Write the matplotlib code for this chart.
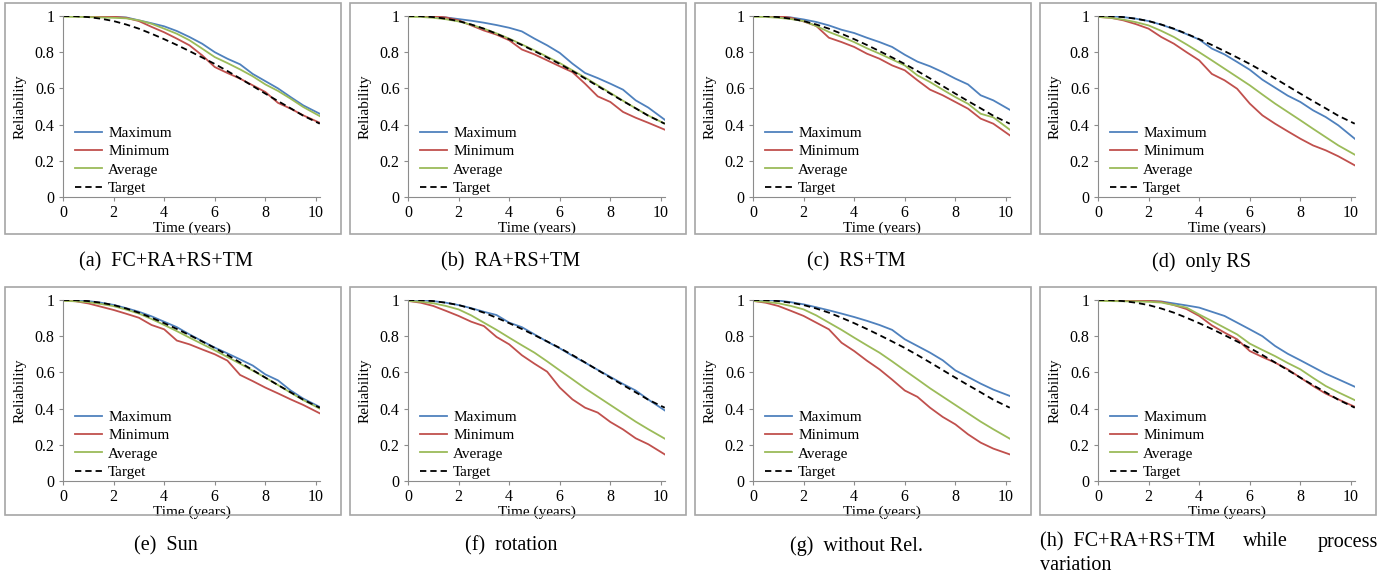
import matplotlib
matplotlib.use("Agg")
import matplotlib.pyplot as plt
from matplotlib.patches import Rectangle

plt.rcParams['font.family'] = ['Liberation Serif', 'DejaVu Serif']

# time grid (years), shared by every curve
t = [0, 0.5, 1, 1.5, 2, 2.5, 3, 3.5, 4, 4.5, 5, 5.5, 6, 6.5, 7, 7.5, 8, 8.5, 9, 9.5, 10.15]

target = [1.0, 0.999, 0.994, 0.985, 0.972, 0.953, 0.93, 0.902, 0.872, 0.84, 0.806,
          0.771, 0.735, 0.696, 0.655, 0.613, 0.571, 0.53, 0.49, 0.449, 0.405]

# (a) FC+RA+RS+TM
a_max = [1.0, 1.0, 1.0, 0.998, 0.995, 0.992, 0.976, 0.96, 0.943, 0.917, 0.884,
         0.847, 0.80, 0.764, 0.733, 0.68, 0.64, 0.60, 0.552, 0.506, 0.46]
a_min = [1.0, 1.0, 1.0, 0.998, 0.996, 0.99, 0.972, 0.94, 0.91, 0.875, 0.838,
         0.783, 0.718, 0.685, 0.654, 0.617, 0.58, 0.52, 0.488, 0.451, 0.41]
a_avg = [0.996, 0.995, 0.994, 0.992, 0.99, 0.987, 0.976, 0.957, 0.93, 0.902, 0.866,
         0.82, 0.773, 0.74, 0.705, 0.667, 0.622, 0.586, 0.543, 0.497, 0.447]

# (b) RA+RS+TM
b_max = [1.0, 1.0, 0.998, 0.992, 0.983, 0.974, 0.963, 0.95, 0.935, 0.915, 0.875,
         0.838, 0.796, 0.737, 0.685, 0.657, 0.626, 0.593, 0.534, 0.494, 0.427]
b_min = [1.0, 1.0, 1.0, 0.992, 0.976, 0.948, 0.92, 0.897, 0.866, 0.815, 0.788,
         0.755, 0.722, 0.69, 0.626, 0.556, 0.525, 0.47, 0.438, 0.41, 0.372]
b_avg = [0.995, 0.995, 0.99, 0.982, 0.97, 0.952, 0.93, 0.904, 0.875, 0.843, 0.81,
         0.775, 0.74, 0.70, 0.66, 0.617, 0.575, 0.532, 0.49, 0.45, 0.405]

# (c) RS+TM
c_max = [1.0, 1.0, 0.998, 0.992, 0.981, 0.967, 0.948, 0.924, 0.906, 0.88, 0.856,
         0.829, 0.786, 0.748, 0.722, 0.69, 0.654, 0.622, 0.562, 0.534, 0.482]
c_min = [1.0, 1.0, 1.0, 0.99, 0.97, 0.945, 0.88, 0.856, 0.829, 0.792, 0.764,
         0.727, 0.70, 0.645, 0.593, 0.562, 0.525, 0.488, 0.433, 0.405, 0.341]
c_avg = [0.995, 0.995, 0.99, 0.983, 0.972, 0.945, 0.912, 0.885, 0.856, 0.822, 0.792,
         0.76, 0.727, 0.672, 0.635, 0.593, 0.552, 0.515, 0.46, 0.44, 0.372]

# (d) only RS
d_max = [1.0, 0.999, 0.994, 0.985, 0.972, 0.952, 0.928, 0.9, 0.87, 0.82, 0.788,
         0.746, 0.703, 0.648, 0.604, 0.56, 0.525, 0.479, 0.442, 0.396, 0.322]
d_min = [0.995, 0.99, 0.976, 0.955, 0.93, 0.884, 0.847, 0.80, 0.755, 0.68, 0.645,
         0.598, 0.516, 0.451, 0.405, 0.363, 0.322, 0.285, 0.258, 0.225, 0.175]
d_avg = [0.995, 0.99, 0.98, 0.966, 0.948, 0.918, 0.884, 0.843, 0.80, 0.755, 0.709,
         0.663, 0.617, 0.566, 0.516, 0.47, 0.424, 0.377, 0.331, 0.285, 0.234]

# (e) Sun
e_max = [1.0, 0.999, 0.994, 0.985, 0.973, 0.955, 0.935, 0.91, 0.88, 0.85, 0.81,
         0.773, 0.737, 0.705, 0.672, 0.638, 0.589, 0.556, 0.50, 0.455, 0.409]
e_min = [0.998, 0.993, 0.981, 0.963, 0.945, 0.924, 0.902, 0.862, 0.838, 0.776, 0.755,
         0.727, 0.70, 0.665, 0.586, 0.552, 0.516, 0.484, 0.451, 0.42, 0.374]
e_avg = [0.995, 0.993, 0.988, 0.978, 0.966, 0.947, 0.925, 0.895, 0.862, 0.828, 0.792,
         0.757, 0.722, 0.685, 0.648, 0.61, 0.571, 0.53, 0.488, 0.447, 0.40]

# (f) rotation
f_max = [1.0, 0.999, 0.994, 0.985, 0.972, 0.955, 0.935, 0.917, 0.875, 0.85, 0.81,
         0.77, 0.733, 0.692, 0.654, 0.614, 0.575, 0.536, 0.50, 0.45, 0.39]
f_min = [0.995, 0.985, 0.967, 0.94, 0.912, 0.88, 0.856, 0.796, 0.755, 0.695, 0.648,
         0.604, 0.516, 0.451, 0.405, 0.378, 0.326, 0.285, 0.236, 0.203, 0.147]
f_avg = [0.995, 0.99, 0.982, 0.967, 0.948, 0.915, 0.875, 0.835, 0.792, 0.75, 0.709,
         0.661, 0.611, 0.562, 0.512, 0.466, 0.42, 0.374, 0.328, 0.286, 0.234]

# (g) without Rel.
g_max = [1.0, 1.0, 0.997, 0.988, 0.976, 0.96, 0.943, 0.925, 0.906, 0.885, 0.862,
         0.835, 0.783, 0.746, 0.709, 0.667, 0.611, 0.575, 0.538, 0.505, 0.47]
g_min = [0.995, 0.985, 0.967, 0.94, 0.912, 0.875, 0.838, 0.764, 0.718, 0.665, 0.617,
         0.56, 0.50, 0.465, 0.405, 0.354, 0.313, 0.258, 0.212, 0.179, 0.147]
g_avg = [0.995, 0.99, 0.982, 0.967, 0.948, 0.915, 0.875, 0.835, 0.792, 0.75, 0.709,
         0.661, 0.611, 0.562, 0.512, 0.466, 0.42, 0.374, 0.328, 0.286, 0.234]

# (h) FC+RA+RS+TM while process variation
h_max = [1.0, 1.0, 1.0, 0.998, 0.995, 0.992, 0.981, 0.97, 0.958, 0.935, 0.912,
         0.875, 0.838, 0.80, 0.746, 0.703, 0.667, 0.63, 0.593, 0.562, 0.521]
h_min = [1.0, 1.0, 1.0, 0.998, 0.995, 0.99, 0.972, 0.95, 0.912, 0.86, 0.82,
         0.783, 0.718, 0.685, 0.654, 0.617, 0.571, 0.525, 0.483, 0.451, 0.41]
h_avg = [0.995, 0.994, 0.993, 0.992, 0.99, 0.986, 0.972, 0.958, 0.92, 0.884, 0.847,
         0.81, 0.759, 0.724, 0.69, 0.652, 0.617, 0.57, 0.525, 0.49, 0.447]

captions = ["(a)  FC+RA+RS+TM", "(b)  RA+RS+TM", "(c)  RS+TM", "(d)  only RS",
            "(e)  Sun", "(f)  rotation", "(g)  without Rel.", None]

panels = [(a_max, a_min, a_avg), (b_max, b_min, b_avg), (c_max, c_min, c_avg),
          (d_max, d_min, d_avg), (e_max, e_min, e_avg), (f_max, f_min, f_avg),
          (g_max, g_min, g_avg), (h_max, h_min, h_avg)]

W, H = 1391, 577
fig = plt.figure(figsize=(W / 100, H / 100), dpi=100)

def fx(px):
    return px / W

def fy(py):
    return 1 - py / H

axis_col = '#8c8c8c'
cap_size = 14.5
for k, (mx, mn, av) in enumerate(panels):
    col, row = k % 4, k // 4
    x_off = 345 * col
    y_off = 284 * row
    # grey frame round each chart
    top = 3 + y_off
    bot = 234 + y_off - (3 if row else 0)
    fig.patches.append(Rectangle((fx(5 + x_off), fy(bot)), fx(336), (bot - top) / H,
                                 transform=fig.transFigure, fill=False,
                                 edgecolor='#a6a6a6', lw=1.2))
    ax = fig.add_axes([fx(63 + x_off), fy(197 + y_off), fx(257), 181 / H])
    ax.plot(t, mx, color='#4F81BD', lw=1.3, label='Maximum')
    ax.plot(t, mn, color='#C0504D', lw=1.3, label='Minimum')
    ax.plot(t, av, color='#9BBB59', lw=1.3, label='Average')
    ax.plot(t, target, color='black', lw=1.3, ls=(0, (3.5, 2.2)), label='Target')
    ax.set_xlim(0, 10.16)
    ax.set_ylim(0, 1)
    ax.set_xticks([0, 2, 4, 6, 8, 10])
    ax.set_yticks([0, 0.2, 0.4, 0.6, 0.8, 1])
    ax.set_yticklabels(['0', '0.2', '0.4', '0.6', '0.8', '1'])
    for s in ['top', 'right']:
        ax.spines[s].set_visible(False)
    for s in ['left', 'bottom']:
        ax.spines[s].set_color(axis_col)
    ax.tick_params(length=3, color=axis_col, labelsize=11.5)
    ax.tick_params(axis='x', pad=3)
    ax.tick_params(axis='y', pad=3)
    ax.set_xlabel('Time (years)', fontsize=11, labelpad=0)
    ax.set_ylabel('Reliability', fontsize=11, labelpad=6)
    ax.legend(loc='upper left', bbox_to_anchor=(0.045, 0.39), frameon=False,
              fontsize=11, handlelength=1.8, handletextpad=0.4, labelspacing=0.3,
              borderaxespad=0.0, borderpad=0.0)
    if captions[k] is not None:
        fig.text(fx(166 + x_off), fy(262 + y_off), captions[k], ha='center',
                 va='center', fontsize=cap_size)

# justified two-line caption of panel (h)
fig.text(fx(1040), fy(542), '(h)  FC+RA+RS+TM', ha='left', va='center', fontsize=cap_size)
fig.text(fx(1243), fy(542), 'while', ha='left', va='center', fontsize=cap_size)
fig.text(fx(1378), fy(542), 'process', ha='right', va='center', fontsize=cap_size)
fig.text(fx(1040), fy(565), 'variation', ha='left', va='center', fontsize=cap_size)

fig.savefig('out.png', dpi=100)
